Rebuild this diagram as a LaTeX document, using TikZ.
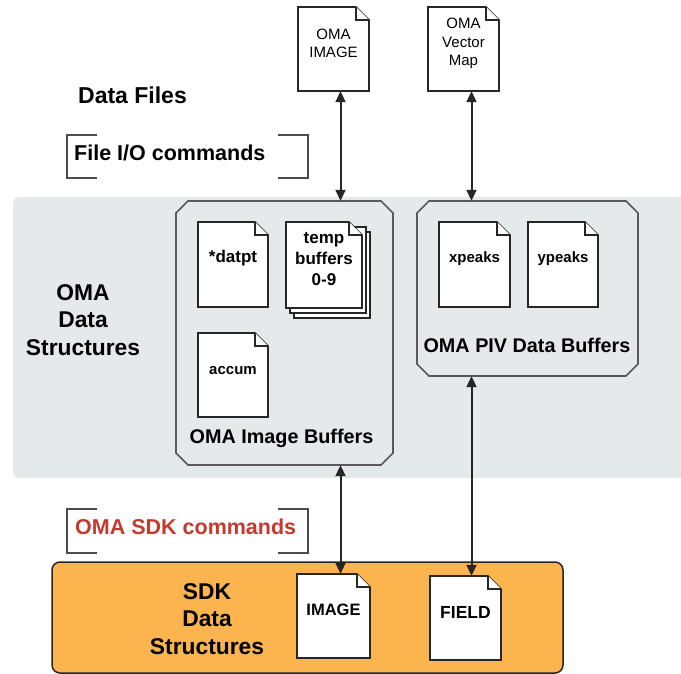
\documentclass[tikz,border=0pt]{standalone}
\usepackage{fontspec}
\setmainfont{Liberation Sans}
\usetikzlibrary{arrows.meta,fit}
\definecolor{bandgray}{RGB}{230,233,234}
\definecolor{sdkorange}{RGB}{252,180,78}
\definecolor{sdkred}{RGB}{196,58,46}
\tikzset{
  docline/.style={draw=black!85,fill=white,line width=1.7pt,line join=miter},
  octline/.style={draw=black!65,line width=1.6pt},
  brk/.style={draw=black!70,line width=1.6pt},
  arr/.style={draw=black!85,line width=2pt,{Triangle[length=11pt,width=10pt]}-{Triangle[length=11pt,width=10pt]}},
  big/.style={font=\bfseries\fontsize{22.8}{27.5}\selectfont,align=center},
  cmd/.style={font=\bfseries\fontsize{21.5}{25}\selectfont,anchor=west,inner sep=0},
  buf/.style={font=\bfseries\fontsize{19.8}{24}\selectfont,inner sep=0},
}
\newcommand\mydoc[7]{%
  \filldraw[docline] (#2,#3) -- ({#4-13},#3) -- (#4,{#3+13}) -- (#4,#5) -- (#2,#5) -- cycle;
  \draw[docline] ({#4-13},#3) -- ({#4-13},{#3+13}) -- (#4,{#3+13});
  \path (#2,#3) coordinate (#1-nw) (#4,#5) coordinate (#1-se);
  \node[fit=(#1-nw)(#1-se),inner sep=0,font={#6},align=center] (#1) {#7};
}
\newcommand\myoct[5]{%
  \draw[octline] ({#2+12},#3) -- ({#4-12},#3) -- (#4,{#3+12}) -- (#4,{#5-12}) -- ({#4-12},#5)
     -- ({#2+12},#5) -- (#2,{#5-12}) -- (#2,{#3+12}) -- cycle;
  \path (#2,#3) coordinate (#1-nw) (#4,#5) coordinate (#1-se);
  \node[fit=(#1-nw)(#1-se),inner sep=0] (#1) {};
}
\begin{document}
\begin{tikzpicture}[x=1pt,y=-1pt]
\useasboundingbox (0,0) rectangle (681,674);
% gray band
\fill[bandgray,rounded corners=6pt] (13,197) rectangle (720,478);
% orange band
\draw[fill=sdkorange,draw=black!85,line width=1.5pt,rounded corners=8pt] (52,562) rectangle (563,673);

% labels
\node[font=\bfseries\fontsize{23}{27}\selectfont] (datafiles) at (132.5,95) {Data Files};
\node[cmd] (fileio) at (74,153) {File I/O commands};
\draw[brk] (97,135) -- (67,135) -- (67,178) -- (97,178);
\draw[brk] (278,135) -- (308,135) -- (308,178) -- (278,178);
\node[cmd,text=sdkred] (sdkcmd) at (75,527) {OMA SDK commands};
\draw[brk] (97,509) -- (67,509) -- (67,553) -- (97,553);
\draw[brk] (278,509) -- (308,509) -- (308,553) -- (278,553);
\node[big] (omads) at (83,320) {OMA\\Data\\Structures};
\node[big] (sdkds) at (207,619) {SDK\\Data\\Structures};

% octagons
\myoct{imgbuf}{176}{201}{393}{465}
\myoct{pivbuf}{417}{201}{638}{376}
\node[buf] (imglbl) at (281.5,438) {OMA Image Buffers};
\node[buf] (pivlbl) at (527,345) {OMA PIV Data Buffers};

% top files
\mydoc{omaimg}{298}{7}{369}{91}{\fontsize{15}{18}\selectfont}{OMA\\IMAGE}
\mydoc{omavec}{428}{7}{499}{91}{\fontsize{15}{18.5}\selectfont}{OMA\\Vector\\Map}

% image buffers
\mydoc{datpt}{198}{222}{268}{307}{\bfseries\fontsize{17}{21}\selectfont}{*datpt}
\filldraw[docline] (294,232) rectangle (370,318);
\filldraw[docline] (290,227) rectangle (366,313);
\mydoc{temp}{286}{222}{362}{308}{\bfseries\fontsize{17}{21}\selectfont}{temp\\buffers\\0-9}
\mydoc{accum}{198}{333}{268}{417}{\bfseries\fontsize{15}{18}\selectfont}{accum}

% PIV buffers
\mydoc{xpeaks}{439}{222}{510}{307}{\bfseries\fontsize{15}{18}\selectfont}{xpeaks}
\mydoc{ypeaks}{528}{222}{598}{307}{\bfseries\fontsize{15}{18}\selectfont}{ypeaks}

% SDK docs
\mydoc{sdkimg}{297}{574}{370}{658}{\bfseries\fontsize{16.5}{20}\selectfont}{IMAGE}
\mydoc{field}{430}{576}{501}{660}{\bfseries\fontsize{17.5}{20}\selectfont}{FIELD}

% arrows
\coordinate (xa) at (340.5,0);
\coordinate (xb) at (471.5,0);
\draw[arr] (omaimg.south -| xa) -- (imgbuf.north -| xa);
\draw[arr] (omavec.south -| xb) -- (pivbuf.north -| xb);
\draw[arr] (imgbuf.south -| xa) -- (sdkimg.north -| xa);
\draw[arr] (pivbuf.south -| xb) -- (field.north -| xb);
\end{tikzpicture}
\end{document}
